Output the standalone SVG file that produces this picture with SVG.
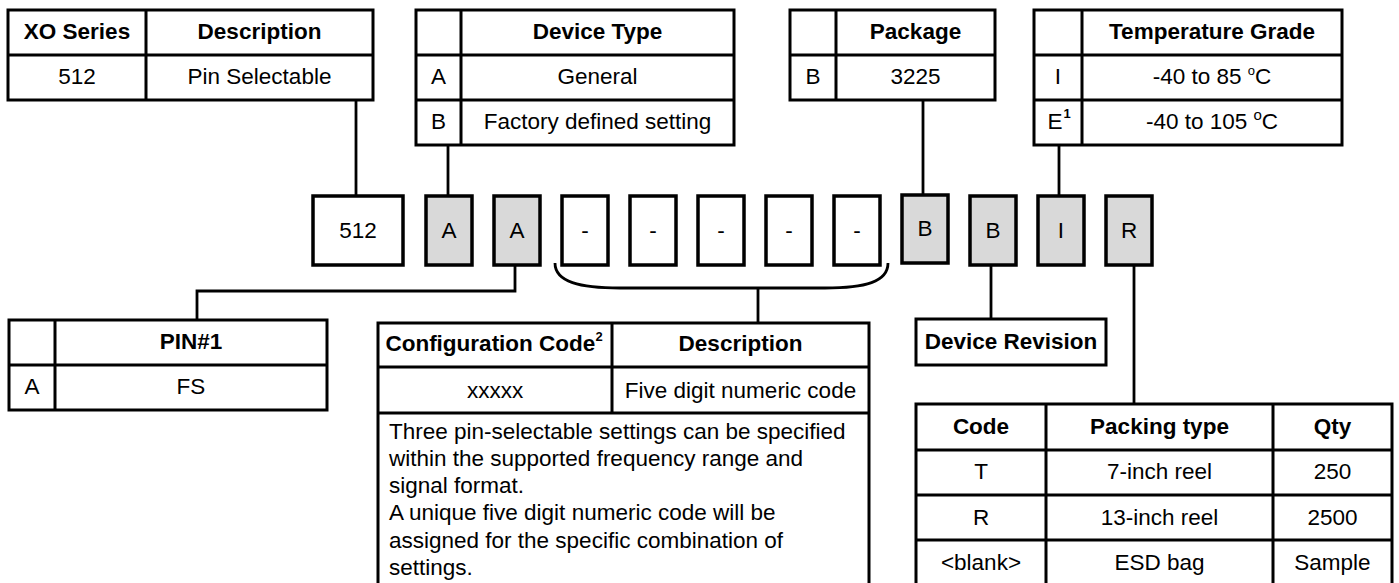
<svg xmlns="http://www.w3.org/2000/svg" width="1399" height="583" viewBox="0 0 1399 583">
<style>
.t{font-family:"Liberation Sans",Arial,sans-serif;font-size:22.5px;fill:#000;text-anchor:middle}
.b{font-weight:bold}
.l{text-anchor:start}
.g{fill:none;stroke:#000;stroke-width:3}
.box{fill:#fff;stroke:#000;stroke-width:3.5}
.gray{fill:#d9d9d9;stroke:#000;stroke-width:3.5}
.c{fill:none;stroke:#000;stroke-width:2.8}
.sup{font-size:13px}
</style>
<rect width="1399" height="583" fill="#fff"/>
<g id="connectors">
<path class="c" d="M356,100V196"/>
<path class="c" d="M448,145V196"/>
<path class="c" d="M923,100V195"/>
<path class="c" d="M1059,145V196"/>
<path class="c" d="M515,265V291H197V320"/>
<path class="c" d="M555,263C555,282 580,288 620,288L825,288C865,288 888,282 888,263"/>
<path class="c" d="M758,288V323"/>
<path class="c" d="M991,265V319"/>
<path class="c" d="M1134,265V404"/>
</g>
<g id="xo-series">
<rect class="g" x="8" y="10" width="365" height="90"/>
<path class="g" d="M146,10V100M8,55H373"/>
<text class="t b" x="77" y="39">XO Series</text>
<text class="t b" x="259.5" y="39">Description</text>
<text class="t" x="77" y="84">512</text>
<text class="t" x="259.5" y="84">Pin Selectable</text>
</g>
<g id="device-type">
<rect class="g" x="416" y="10" width="318" height="135"/>
<path class="g" d="M461,10V145M416,55H734M416,100H734"/>
<text class="t b" x="597.5" y="39">Device Type</text>
<text class="t" x="438.5" y="84">A</text>
<text class="t" x="597.5" y="84">General</text>
<text class="t" x="438.5" y="129">B</text>
<text class="t" x="597.5" y="129">Factory defined setting</text>
</g>
<g id="package">
<rect class="g" x="790" y="10" width="205" height="90"/>
<path class="g" d="M836,10V100M790,55H995"/>
<text class="t b" x="915.5" y="39">Package</text>
<text class="t" x="813" y="84">B</text>
<text class="t" x="915.5" y="84">3225</text>
</g>
<g id="temperature-grade">
<rect class="g" x="1034" y="10" width="308" height="135"/>
<path class="g" d="M1082,10V145M1034,55H1342M1034,100H1342"/>
<text class="t b" x="1212" y="39">Temperature Grade</text>
<text class="t" x="1058" y="84">I</text>
<text class="t" x="1212" y="84">-40 to 85 <tspan class="sup" font-size="15" dy="-9">o</tspan><tspan dy="9">C</tspan></text>
<text class="t" x="1055" y="129">E</text>
<text class="t b sup" x="1067" y="118">1</text>
<text class="t" x="1212" y="129">-40 to 105 <tspan font-size="15" dy="-9">o</tspan><tspan dy="9">C</tspan></text>
</g>
<g id="code-boxes">
<g id="box-512"><rect class="box" x="313" y="196" width="90" height="69"/><text class="t" x="358" y="238">512</text></g>
<g id="box-a1"><rect class="gray" x="426" y="196" width="46" height="69"/><text class="t" x="449" y="238">A</text></g>
<g id="box-a2"><rect class="gray" x="494" y="196" width="46" height="69"/><text class="t" x="517" y="238">A</text></g>
<g id="box-d1"><rect class="box" x="562" y="196" width="46" height="69"/><text class="t" x="585" y="238">-</text></g>
<g id="box-d2"><rect class="box" x="630" y="196" width="46" height="69"/><text class="t" x="653" y="238">-</text></g>
<g id="box-d3"><rect class="box" x="698" y="196" width="46" height="69"/><text class="t" x="721" y="238">-</text></g>
<g id="box-d4"><rect class="box" x="766" y="196" width="46" height="69"/><text class="t" x="789" y="238">-</text></g>
<g id="box-d5"><rect class="box" x="834" y="196" width="46" height="69"/><text class="t" x="857" y="238">-</text></g>
<g id="box-b1"><rect class="gray" x="902" y="195" width="46" height="68"/><text class="t" x="925" y="236">B</text></g>
<g id="box-b2"><rect class="gray" x="970" y="196" width="46" height="69"/><text class="t" x="993" y="238">B</text></g>
<g id="box-i"><rect class="gray" x="1038" y="196" width="46" height="69"/><text class="t" x="1061" y="238">I</text></g>
<g id="box-r"><rect class="gray" x="1106" y="196" width="46" height="69"/><text class="t" x="1129" y="238">R</text></g>
</g>
<g id="pin1">
<rect class="g" x="9" y="320" width="318" height="90"/>
<path class="g" d="M55,320V410M9,365H327"/>
<text class="t b" x="191" y="349">PIN#1</text>
<text class="t" x="32" y="394">A</text>
<text class="t" x="191" y="394">FS</text>
</g>
<g id="configuration-code">
<rect class="g" x="378" y="323" width="491" height="270"/>
<path class="g" d="M612,323V413M378,367H869M378,413H869"/>
<text class="t b" x="494" y="351">Configuration Code<tspan class="sup" dy="-10">2</tspan></text>
<text class="t b" x="740.5" y="351">Description</text>
<text class="t" x="495" y="398">xxxxx</text>
<text class="t" x="740.5" y="398">Five digit numeric code</text>
<text class="t l" x="389" y="438.5">Three pin-selectable settings can be specified</text>
<text class="t l" x="389" y="465.8">within the supported frequency range and</text>
<text class="t l" x="389" y="493.1">signal format.</text>
<text class="t l" x="389" y="520.4">A unique five digit numeric code will be</text>
<text class="t l" x="389" y="547.7">assigned for the specific combination of</text>
<text class="t l" x="389" y="575">settings.</text>
</g>
<g id="device-revision">
<rect class="g" x="916" y="319" width="190" height="46"/>
<text class="t b" x="1011" y="349">Device Revision</text>
</g>
<g id="packing">
<rect class="g" x="916" y="404" width="476" height="190"/>
<path class="g" d="M1046,404V594M1273,404V594M916,450H1392M916,495H1392M916,540H1392"/>
<text class="t b" x="981" y="434">Code</text>
<text class="t b" x="1159.5" y="434">Packing type</text>
<text class="t b" x="1332.5" y="434">Qty</text>
<text class="t" x="981" y="479">T</text>
<text class="t" x="1159.5" y="479">7-inch reel</text>
<text class="t" x="1332.5" y="479">250</text>
<text class="t" x="981" y="525">R</text>
<text class="t" x="1159.5" y="525">13-inch reel</text>
<text class="t" x="1332.5" y="525">2500</text>
<text class="t" x="981" y="570">&lt;blank&gt;</text>
<text class="t" x="1159.5" y="570">ESD bag</text>
<text class="t" x="1332.5" y="570">Sample</text>
</g>
</svg>
